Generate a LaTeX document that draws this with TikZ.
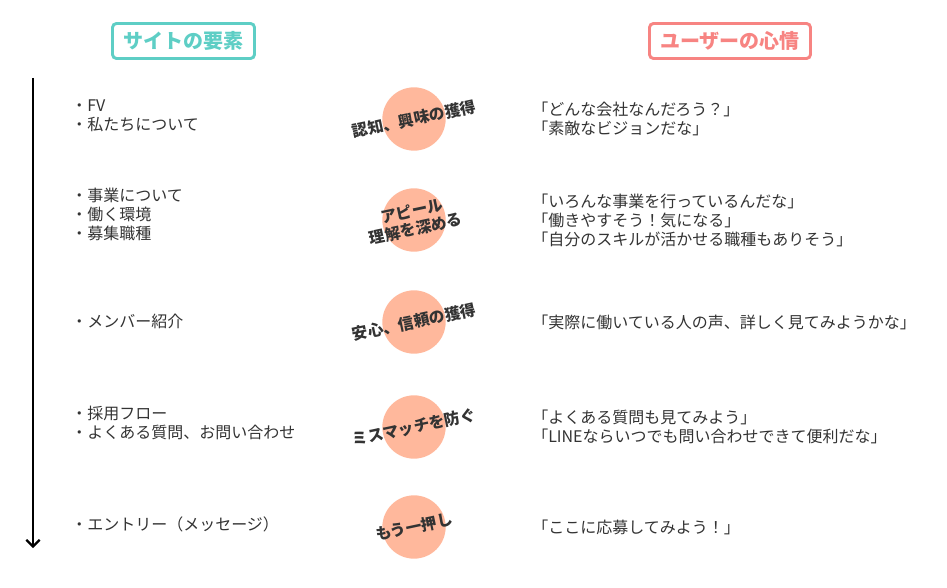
\documentclass[tikz,border=0pt]{standalone}
\usepackage{fontspec}
\setmainfont{Noto Sans CJK JP}
\usetikzlibrary{arrows.meta}
\definecolor{siteteal}{HTML}{5ECEC5}
\definecolor{userpink}{HTML}{F78482}
\definecolor{peach}{HTML}{FFB89C}
\definecolor{ink}{HTML}{333333}
\tikzset{
	headbox/.style={draw=#1,text=#1,line width=2.2pt,rounded corners=3pt,minimum height=26.25pt,font=\fontsize{15}{18}\selectfont\bfseries},
	item/.style={anchor=west,align=left,text=ink,inner sep=0pt,font=\fontsize{12}{14.25}\selectfont},
	stage/.style={circle,fill=peach,minimum size=47.5pt,inner sep=0pt},
	tag/.style={rotate=12,align=center,text=ink,inner sep=0pt,font=\fontsize{11.8}{13.5}\selectfont\bfseries}
}
\begin{document}
\begin{tikzpicture}[x=0.75pt,y=-0.75pt,>={Straight Barb[length=5pt,width=10pt]}]
	\useasboundingbox (0,0) rectangle (947,588);
	\node[headbox=siteteal,minimum width=106.5pt] (site) at (183.5,41) {サイトの要素};
	\node[headbox=userpink,minimum width=120.75pt] (user) at (730,41) {ユーザーの心情};
	\coordinate (top) at (33,78);
	\coordinate (bot) at (33,548);
	\draw[->,line width=1.6pt] (top) -- (bot);
	\foreach \i/\yl/\yc/\l/\s/\r in {
		1/116/119/{・FV\\・私たちについて}/{認知、興味の獲得}/{「どんな会社なんだろう？」\\「素敵なビジョンだな」},
		2/214/220/{・事業について\\・働く環境\\・募集職種}/{アピール\\理解を深める}/{「いろんな事業を行っているんだな」\\「働きやすそう！気になる」\\「自分のスキルが活かせる職種もありそう」},
		3/321/322/{・メンバー紹介}/{安心、信頼の獲得}/{「実際に働いている人の声、詳しく見てみようかな」},
		4/423/427/{・採用フロー\\・よくある質問、お問い合わせ}/{ミスマッチを防ぐ}/{「よくある質問も見てみよう」\\「LINEならいつでも問い合わせできて便利だな」},
		5/524/527/{・エントリー（メッセージ）}/{もう一押し}/{「ここに応募してみよう！」}}{
		\node[item] (l\i) at (71,\yl) {\l};
		\node[stage] (c\i) at (414,\yc) {};
		\node[tag] (t\i) at (c\i) {\s};
		\node[item] (r\i) at (532,\yc) {\r};
	}
\end{tikzpicture}
\end{document}
